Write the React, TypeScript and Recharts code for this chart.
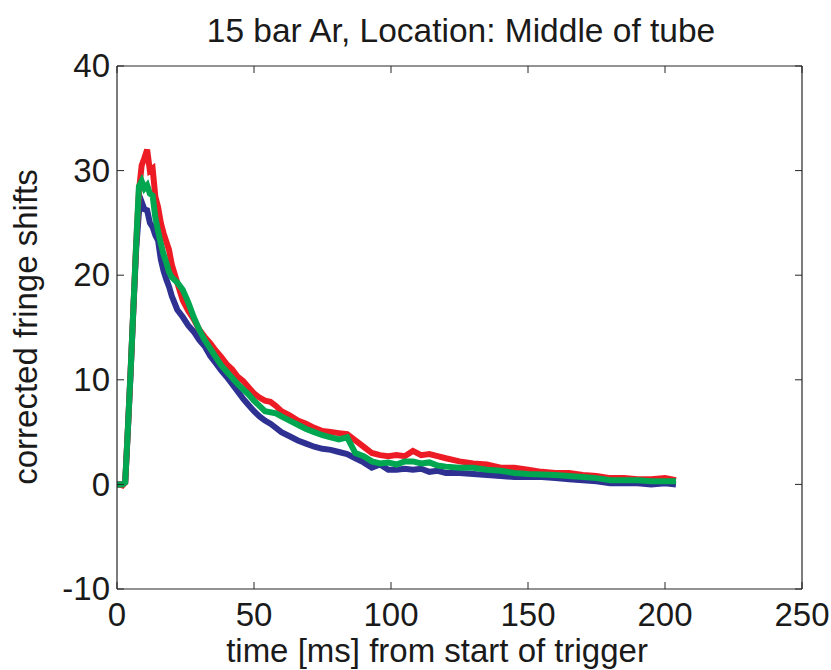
import React from "react";
import { LineChart, Line, XAxis, YAxis, Label } from "recharts";

const timeMs = [
  0, 1, 2, 3, 4, 5, 6, 7, 8, 9, 10, 11, 12, 13, 14, 15, 16, 17, 18, 19, 20,
  22, 24, 26, 28, 30, 32, 34, 36, 38, 40, 42, 44, 46, 48, 50, 52, 54, 56, 58, 60,
  63, 66, 69, 72, 75, 78, 81, 84, 87, 90, 93, 96, 99, 102, 105, 108, 111, 114, 117, 120,
  125, 130, 135, 140, 145, 150, 155, 160, 165, 170, 175, 180, 185, 190, 195, 200, 204,
];

const redShift = [
  0, 0, -0.1, 0.2, 5.5, 11, 17, 23, 28, 30.5, 31.2, 32, 30, 30.2, 27.5, 26.5, 25, 24, 23.2, 22.4, 21,
  19.3, 17.6, 16.6, 15.8, 14.8, 14.1, 13.5, 12.8, 12.2, 11.5, 11.0, 10.3, 9.9, 9.3, 8.7, 8.3, 8.0, 7.9, 7.5, 7.0,
  6.6, 6.1, 5.8, 5.4, 5.1, 5.0, 4.9, 4.8, 4.2, 3.6, 3.0, 2.8, 2.7, 2.8, 2.7, 3.2, 2.8, 2.9, 2.7, 2.5,
  2.2, 2.0, 1.9, 1.6, 1.6, 1.4, 1.2, 1.1, 1.1, 0.9, 0.8, 0.6, 0.6, 0.5, 0.5, 0.6, 0.4,
];

const greenShift = [
  0, 0, 0, 0.2, 5.5, 11, 17, 23, 28.5, 29, 28.3, 28.6, 27.8, 27.6, 25.5, 24.2, 23, 22, 21.2, 20.3, 19.8,
  19.3, 18.6, 17.4, 16.0, 14.8, 13.8, 13.0, 12.2, 11.4, 10.8, 10.2, 9.6, 9.1, 8.6, 8.0, 7.5, 7.0, 6.9, 6.8, 6.5,
  6.1, 5.7, 5.3, 5.0, 4.7, 4.5, 4.3, 4.5, 3.0, 2.7, 2.2, 2.0, 2.1, 1.9, 2.2, 2.2, 2.0, 2.1, 1.8, 1.7,
  1.6, 1.6, 1.4, 1.3, 1.1, 1.0, 0.95, 0.9, 0.8, 0.7, 0.6, 0.4, 0.4, 0.4, 0.3, 0.3, 0.3,
];

const blueShift = [
  0, 0, 0, 0.2, 5.3, 10.8, 16.8, 22.5, 26, 27, 26.3, 26.2, 25, 24.6, 23.8, 23.3, 21.5, 20.4, 19.6, 18.9, 18,
  16.7, 16, 15.2, 14.6, 13.8, 13.2, 12.3, 11.6, 10.9, 10.3, 9.6, 8.9, 8.2, 7.6, 7.0, 6.5, 6.1, 5.8, 5.4, 5.0,
  4.6, 4.2, 3.9, 3.6, 3.4, 3.3, 3.1, 2.9, 2.5, 2.1, 1.6, 1.9, 1.4, 1.4, 1.5, 1.4, 1.5, 1.2, 1.3, 1.1,
  1.1, 1.0, 0.9, 0.8, 0.7, 0.7, 0.7, 0.6, 0.5, 0.4, 0.3, 0.1, 0.1, 0.1, 0.0, 0.1, 0.0,
];

const xTicks = [0, 50, 100, 150, 200, 250];
const yTicks = [-10, 0, 10, 20, 30, 40];

const data = timeMs.map((t, i) => ({
  t,
  red: redShift[i],
  green: greenShift[i],
  blue: blueShift[i],
}));

const FONT = "'Liberation Sans', Arial, Helvetica, sans-serif";
const AXIS = "#262626";
const TEXT = "#1a1a1a";
const FS = 33;
const TICK_LEN = 7;

const BottomTick = (props: any) => {
  const { x, y, payload } = props;
  return (
    <g>
      <line x1={x} y1={y} x2={x} y2={y - TICK_LEN} stroke={AXIS} strokeWidth={1} />
      <text x={x} y={y + 37} textAnchor="middle" fontSize={FS} fontFamily={FONT} fill={TEXT}>
        {payload.value}
      </text>
    </g>
  );
};

const TopTick = (props: any) => {
  const { x, y } = props;
  return <line x1={x} y1={y} x2={x} y2={y + TICK_LEN} stroke={AXIS} strokeWidth={1} />;
};

const LeftTick = (props: any) => {
  const { x, y, payload } = props;
  return (
    <g>
      <line x1={x} y1={y} x2={x + TICK_LEN} y2={y} stroke={AXIS} strokeWidth={1} />
      <text x={x - 7} y={y} dy="0.34em" textAnchor="end" fontSize={FS} fontFamily={FONT} fill={TEXT}>
        {payload.value}
      </text>
    </g>
  );
};

const RightTick = (props: any) => {
  const { x, y } = props;
  return <line x1={x} y1={y} x2={x - TICK_LEN} y2={y} stroke={AXIS} strokeWidth={1} />;
};

export default function App() {
  return (
    <div style={{ position: "absolute", left: 0, top: 0, width: 831, height: 670, background: "#fff" }}>
      <div
        style={{
          position: "absolute",
          left: 0,
          top: 14,
          width: 922,
          textAlign: "center",
          fontFamily: FONT,
          fontSize: 33.5,
          lineHeight: "33px",
          color: TEXT,
          whiteSpace: "nowrap",
        }}
      >
        15 bar Ar, Location: Middle of tube
      </div>
      <LineChart
        width={831}
        height={670}
        data={data}
        margin={{ top: 65, right: 28, bottom: 0, left: 0 }}
        style={{ position: "absolute", left: 0, top: 0 }}
      >
        <XAxis
          dataKey="t"
          type="number"
          domain={[0, 250]}
          ticks={xTicks}
          interval={0}
          height={81}
          tickSize={0}
          tickMargin={0}
          tickLine={false}
          tick={<BottomTick />}
          axisLine={{ stroke: AXIS, strokeWidth: 1.2 }}
          allowDataOverflow
        >
          <Label
            content={() => (
              <text x={437} y={662} textAnchor="middle" fontSize={FS} fontFamily={FONT} fill={TEXT}>
                time [ms] from start of trigger
              </text>
            )}
          />
        </XAxis>
        <XAxis
          xAxisId="top"
          orientation="top"
          dataKey="t"
          type="number"
          domain={[0, 250]}
          ticks={xTicks}
          interval={0}
          height={1}
          tickSize={0}
          tickMargin={0}
          tickLine={false}
          tick={<TopTick />}
          axisLine={{ stroke: AXIS, strokeWidth: 1.2 }}
          allowDataOverflow
        />
        <YAxis
          type="number"
          domain={[-10, 40]}
          ticks={yTicks}
          interval={0}
          width={117}
          tickSize={0}
          tickMargin={0}
          tickLine={false}
          tick={<LeftTick />}
          axisLine={{ stroke: AXIS, strokeWidth: 1.2 }}
          allowDataOverflow
        >
          <Label
            content={() => (
              <text
                x={37}
                y={327}
                textAnchor="middle"
                fontSize={FS}
                fontFamily={FONT}
                fill={TEXT}
                transform="rotate(-90, 37, 327)"
              >
                corrected fringe shifts
              </text>
            )}
          />
        </YAxis>
        <YAxis
          yAxisId="right"
          orientation="right"
          type="number"
          domain={[-10, 40]}
          ticks={yTicks}
          interval={0}
          width={1}
          tickSize={0}
          tickMargin={0}
          tickLine={false}
          tick={<RightTick />}
          axisLine={{ stroke: AXIS, strokeWidth: 1.2 }}
          allowDataOverflow
        />
        <Line
          xAxisId="top"
          yAxisId="right"
          dataKey="blue"
          stroke="none"
          strokeWidth={0}
          dot={false}
          activeDot={false}
          isAnimationActive={false}
          legendType="none"
        />
        <Line dataKey="blue" stroke="#2E3192" strokeWidth={6} dot={false} isAnimationActive={false} type="linear" />
        <Line dataKey="red" stroke="#ED1C24" strokeWidth={6} dot={false} isAnimationActive={false} type="linear" />
        <Line dataKey="green" stroke="#00A650" strokeWidth={6} dot={false} isAnimationActive={false} type="linear" />
      </LineChart>
    </div>
  );
}
